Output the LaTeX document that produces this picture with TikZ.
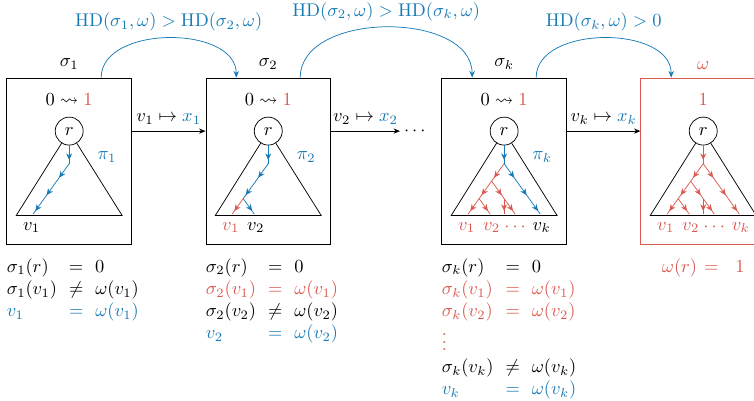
\documentclass[tikz,border=0pt]{standalone}
\usepackage{amsmath,amssymb}
\usepackage{xcolor}
\usepackage{tikz}
\usetikzlibrary{arrows.meta, positioning, calc, decorations.markings}
\definecolor{accblue}{RGB}{22,122,180}
\definecolor{accred}{RGB}{218,88,78}
\newcommand{\bl}[1]{\textcolor{accblue}{#1}}
\newcommand{\rd}[1]{\textcolor{accred}{#1}}
\tikzset{
  state/.style={rectangle, draw, line width=0.5pt, minimum width=67.7pt,
                minimum height=90.2pt, inner sep=0pt},
  root/.style={circle, draw, thin, fill=white, minimum size=15.2pt, inner sep=0pt},
  tedge/.style={thin, postaction={decorate}, decoration={markings,
                mark=at position 0.8 with {\arrow{Stealth[length=3.6pt,width=3.2pt]}}}},
  bedge/.style={tedge, accblue},
  redge/.style={tedge, accred},
  arrow/.style={-{Stealth[length=3.5pt,width=2.8pt]}, thin},
  hop/.style={-{Stealth[length=3.6pt,width=3pt]}, thin, accblue},
  eqs/.style={inner sep=0pt}
}
% tree points below a root node
\newcommand{\treepts}[1]{%
  \coordinate (#1a) at ([yshift=-17.7pt]#1.center);
  \coordinate (#1b) at ([shift={(-6.8pt,-27.2pt)}]#1.center);
  \coordinate (#1c) at ([shift={(6.8pt,-27.2pt)}]#1.center);
  \coordinate (#1d) at ([shift={(-13.6pt,-36.7pt)}]#1.center);
  \coordinate (#1e) at ([shift={(0pt,-36.7pt)}]#1.center);
  \coordinate (#1f) at ([shift={(13.6pt,-36.7pt)}]#1.center);
  \coordinate (#1dl) at ([shift={(-19.6pt,-45.1pt)}]#1.center);
  \coordinate (#1dr) at ([shift={(-7.6pt,-45.1pt)}]#1.center);
  \coordinate (#1el) at ([shift={(0pt,-45.1pt)}]#1.center);
  \coordinate (#1er) at ([shift={(6pt,-45.1pt)}]#1.center);
  \coordinate (#1g) at ([shift={(19.6pt,-45.1pt)}]#1.center);
  \draw[thin] (#1.238) -- ([shift={(-28.8pt,-45.9pt)}]#1.center)
    -- ([shift={(28.8pt,-45.9pt)}]#1.center) -- (#1.302);
}

\begin{document}
\begin{tikzpicture}
    \useasboundingbox (0,0) rectangle (409.8pt,-217.4pt);

    \node[state] (s1) at (37.6pt,-87.5pt) {};
    \node[state, right=40pt of s1] (s2) {};
    \node[state, right=60pt of s2] (s3) {};
    \node[state, draw=accred, right=40pt of s3] (s4) {};

    \node[above=1pt of s1] (t1) {$\sigma_1$};
    \node[above=1pt of s2] (t2) {$\sigma_2$};
    \node[above=1pt of s3] (t3) {$\sigma_k$};
    \node[above=1pt of s4, text=accred] (t4) {$\omega$};

    \node[root] (r1) at ([yshift=-29.1pt]s1.north) {$r$};
    \node[root] (r2) at ([yshift=-29.1pt]s2.north) {$r$};
    \node[root] (r3) at ([yshift=-29.1pt]s3.north) {$r$};
    \node[root] (r4) at ([yshift=-29.1pt]s4.north) {$r$};
    \treepts{r1}
    \treepts{r2}
    \treepts{r3}
    \treepts{r4}

    \node[above=2.5pt of r1] (m1) {$0 \leadsto \rd{1}$};
    \node[above=2.5pt of r2] (m2) {$0 \leadsto \rd{1}$};
    \node[above=2.5pt of r3] (m3) {$0 \leadsto \rd{1}$};
    \node[above=2.5pt of r4, text=accred] (m4) {$1$};

    \node[text=accblue] (p1) at ([shift={(20.6pt,-14.1pt)}]r1.center) {$\pi_1$};
    \node[text=accblue] (p2) at ([shift={(20.6pt,-14.1pt)}]r2.center) {$\pi_2$};
    \node[text=accblue] (p3) at ([shift={(20.6pt,-14.1pt)}]r3.center) {$\pi_k$};

    % sigma_1
    \draw[bedge] (r1) -- (r1a);
    \draw[bedge] (r1a) -- (r1b);
    \draw[bedge] (r1b) -- (r1d);
    \draw[bedge] (r1d) -- (r1dl);
    \node (v11) at ([shift={(-20.4pt,-52.4pt)}]r1.center) {$v_1$};

    % sigma_2
    \draw[bedge] (r2) -- (r2a);
    \draw[bedge] (r2a) -- (r2b);
    \draw[bedge] (r2b) -- (r2d);
    \draw[redge] (r2d) -- (r2dl);
    \draw[bedge] (r2d) -- (r2dr);
    \node[text=accred] (v21) at ([shift={(-20.4pt,-52.4pt)}]r2.center) {$v_1$};
    \node (v22) at ([shift={(-6.8pt,-52.4pt)}]r2.center) {$v_2$};

    % sigma_k
    \draw[bedge] (r3) -- (r3a);
    \draw[redge] (r3a) -- (r3b);
    \draw[redge] (r3b) -- (r3d);
    \draw[redge] (r3d) -- (r3dl);
    \draw[redge] (r3d) -- (r3dr);
    \draw[redge] (r3b) -- (r3e);
    \draw[redge] (r3e) -- (r3el);
    \draw[redge] (r3e) -- (r3er);
    \draw[bedge] (r3a) -- (r3c);
    \draw[bedge] (r3c) -- (r3f);
    \draw[bedge] (r3f) -- (r3g);
    \node[text=accred] (v31) at ([shift={(-20.4pt,-52.4pt)}]r3.center) {$v_1$};
    \node[text=accred] (v32) at ([shift={(-6.8pt,-52.4pt)}]r3.center) {$v_2$};
    \node[text=accred] (v3d) at ([shift={(6.8pt,-52.4pt)}]r3.center) {$\cdots$};
    \node (v3k) at ([shift={(20.4pt,-52.4pt)}]r3.center) {$v_k$};

    % omega
    \draw[redge] (r4) -- (r4a);
    \draw[redge] (r4a) -- (r4b);
    \draw[redge] (r4b) -- (r4d);
    \draw[redge] (r4d) -- (r4dl);
    \draw[redge] (r4d) -- (r4dr);
    \draw[redge] (r4b) -- (r4e);
    \draw[redge] (r4e) -- (r4el);
    \draw[redge] (r4e) -- (r4er);
    \draw[redge] (r4a) -- (r4c);
    \draw[redge] (r4c) -- (r4f);
    \draw[redge] (r4f) -- (r4g);
    \node[text=accred] (v41) at ([shift={(-20.4pt,-52.4pt)}]r4.center) {$v_1$};
    \node[text=accred] (v42) at ([shift={(-6.8pt,-52.4pt)}]r4.center) {$v_2$};
    \node[text=accred] (v4d) at ([shift={(6.8pt,-52.4pt)}]r4.center) {$\cdots$};
    \node[text=accred] (v4k) at ([shift={(20.4pt,-52.4pt)}]r4.center) {$v_k$};

    \node[anchor=west, inner sep=2pt] (dots) at ($(s2.east |- r2)+(37.5pt,0)$) {$\cdots$};

    \draw[arrow] (s1.east |- r1) -- node[above]{$v_1 \mapsto \bl{x_1}$} (s2.west |- r2);
    \draw[arrow] (s2.east |- r2) -- node[above]{$v_2 \mapsto \bl{x_2}$} (dots);
    \draw[arrow] (s3.east |- r3) -- node[above]{$v_k \mapsto \bl{x_k}$} (s4.west |- r4);

    \draw[hop] ([xshift=17.4pt]s1.north) to[out=90, in=90]
      node[above, text=accblue]{$\mathrm{HD}(\sigma_1,\omega) > \mathrm{HD}(\sigma_2,\omega)$}
      ([xshift=-17.4pt]s2.north);
    \draw[hop] ([xshift=17.4pt]s2.north) to[out=90, in=90]
      node[above, text=accblue]{$\mathrm{HD}(\sigma_2,\omega) > \mathrm{HD}(\sigma_k,\omega)$}
      ([xshift=-17.4pt]s3.north);
    \draw[hop] ([xshift=17.4pt]s3.north) to[out=90, in=90]
      node[above, text=accblue]{$\mathrm{HD}(\sigma_k,\omega) > 0$}
      ([xshift=-17.4pt]s4.north);

    \node[eqs, anchor=north west] (e1) at ([yshift=-6.5pt]s1.south west)
      {$\begin{array}{@{}l@{\hspace{6.5pt}}c@{\hspace{6.5pt}}l@{}}
        \sigma_1(r) & = & 0\\
        \sigma_1(v_1) & \neq & \omega(v_1)\\
        \bl{v_1} & \bl{=} & \bl{\omega(v_1)}
      \end{array}$};
    \node[eqs, anchor=north west] (e2) at ([yshift=-6.5pt]s2.south west)
      {$\begin{array}{@{}l@{\hspace{6.5pt}}c@{\hspace{6.5pt}}l@{}}
        \sigma_2(r) & = & 0\\
        \rd{\sigma_2(v_1)} & \rd{=} & \rd{\omega(v_1)}\\
        \sigma_2(v_2) & \neq & \omega(v_2)\\
        \bl{v_2} & \bl{=} & \bl{\omega(v_2)}
      \end{array}$};
    \node[eqs, anchor=north west] (e3) at ([yshift=-6.5pt]s3.south west)
      {$\begin{array}{@{}l@{\hspace{6.5pt}}c@{\hspace{6.5pt}}l@{}}
        \sigma_k(r) & = & 0\\
        \rd{\sigma_k(v_1)} & \rd{=} & \rd{\omega(v_1)}\\
        \rd{\sigma_k(v_2)} & \rd{=} & \rd{\omega(v_2)}\\
        \rd{\vdots} & & \\
        \sigma_k(v_k) & \neq & \omega(v_k)\\
        \bl{v_k} & \bl{=} & \bl{\omega(v_k)}
      \end{array}$};
    \node[eqs, anchor=north, text=accred] (e4) at ([yshift=-6.5pt]s4.south)
      {$\begin{array}{@{}l@{\hspace{3.8pt}}c@{\hspace{9.2pt}}l@{}}
        \omega(r) & = & 1
      \end{array}$};
\end{tikzpicture}
\end{document}
